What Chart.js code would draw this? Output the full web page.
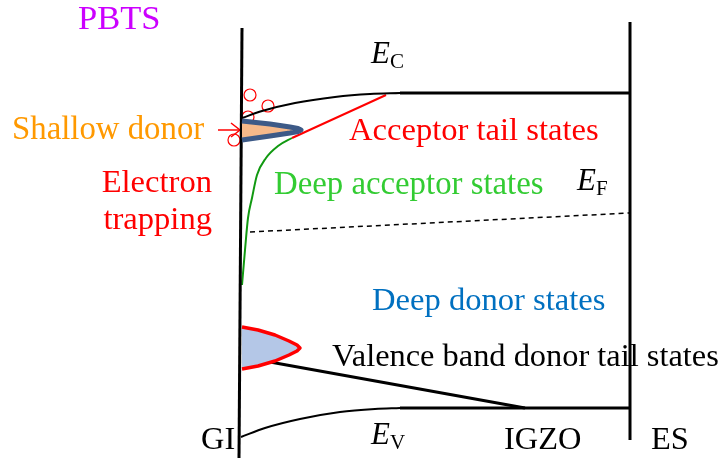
<!DOCTYPE html>
<html>
<head>
<meta charset="utf-8">
<script src="https://cdn.jsdelivr.net/npm/chart.js@4/dist/chart.umd.min.js"></script>
<style>
  body { margin: 0; background: #fff; }
  #wrap { width: 725px; height: 458px; }
</style>
</head>
<body>
<div id="wrap"><canvas id="band"></canvas></div>
<script>
// band diagram traces, x = position, y = energy (screen-like units, top = 0)
const giWall = [[242, 28], [239, 458]];
const esWall = [[630, 22], [630, 440]];
const ecCurve = [[242, 118], [262, 111], [295, 103], [335, 97], [370, 94], [400, 93]];
const ecFlat = [[400, 93], [630, 93]];
const evCurve = [[241, 437], [265, 428], [300, 419], [340, 412], [375, 409], [400, 408]];
const evFlat = [[400, 408], [630, 408]];
const fermiLine = [[250, 232], [630, 213]];
const acceptorTail = [[292, 138], [386, 95]];
const deepAcceptor = [[242, 285], [245, 250], [248, 218], [252, 198], [257, 175], [266, 158], [278, 146], [292, 138]];
const donorTail = [[270, 362], [525, 408]];
const shallowDonor = [[242, 121], [270, 124], [290, 127], [298, 128.5], [301, 130], [298, 131.5], [290, 133], [270, 136], [242, 140]];
const deepDonor = [[242, 327], [258, 330], [275, 335], [289, 341], [297, 345], [300, 348], [297, 351], [289, 355], [275, 361], [258, 366], [242, 369]];
const trappedElectrons = [[250, 95], [268, 106], [248, 117], [234, 140]];
const trapArrow = [[218, 130], [240, 130]];
const arrowHead = [[231, 123], [240, 130], [231, 137]];

const labels = [
  { text: 'PBTS', x: 78, y: 20, color: '#cc00ff', size: 34.5 },
  { text: 'Shallow donor', x: 12, y: 130, color: '#ff9900', size: 32.8 },
  { text: 'Acceptor tail states', x: 349, y: 131, color: '#ff0000', size: 32.6 },
  { text: 'Electron', x: 212, y: 183, color: '#ff0000', size: 32.6, align: 'right' },
  { text: 'trapping', x: 212, y: 220, color: '#ff0000', size: 32.6, align: 'right' },
  { text: 'Deep acceptor states', x: 274, y: 185, color: '#33cc33', size: 32.8 },
  { text: 'Deep donor states', x: 372, y: 301, color: '#0070c0', size: 32.6 },
  { text: 'Valence band donor tail states', x: 332, y: 357, color: '#000000', size: 32.4 },
  { text: 'GI', x: 201, y: 440, color: '#000000', size: 32.4 },
  { text: 'IGZO', x: 504, y: 440, color: '#000000', size: 32.4 },
  { text: 'ES', x: 651, y: 440, color: '#000000', size: 32.4 }
];
const energyLabels = [
  { main: 'E', sub: 'C', x: 371, y: 55 },
  { main: 'E', sub: 'F', x: 577, y: 182 },
  { main: 'E', sub: 'V', x: 371, y: 436 }
];

const toPts = (arr) => arr.map(([x, y]) => ({ x, y }));

function line(data, color, width, extra = {}) {
  return Object.assign({
    data: toPts(data),
    showLine: true,
    borderColor: color,
    borderWidth: width,
    pointRadius: 0,
    fill: false,
    tension: 0
  }, extra);
}

const textPlugin = {
  id: 'bandText',
  afterDatasetsDraw(chart) {
    const { ctx, scales } = chart;
    const fx = scales.x;
    const fy = scales.y;
    ctx.save();
    ctx.textBaseline = 'middle';
    labels.forEach((l) => {
      ctx.font = `${l.size}px "Liberation Serif", serif`;
      ctx.fillStyle = l.color;
      ctx.textAlign = l.align || 'left';
      ctx.fillText(l.text, fx.getPixelForValue(l.x), fy.getPixelForValue(l.y));
    });
    ctx.textAlign = 'left';
    ctx.fillStyle = '#000';
    energyLabels.forEach((l) => {
      const px = fx.getPixelForValue(l.x);
      const py = fy.getPixelForValue(l.y);
      ctx.font = 'italic 31px "Liberation Serif", serif';
      ctx.fillText(l.main, px, py);
      const w = ctx.measureText(l.main).width;
      ctx.font = '21px "Liberation Serif", serif';
      ctx.fillText(l.sub, px + w, py + 7);
    });
    ctx.restore();
  }
};

new Chart(document.getElementById('band'), {
  type: 'scatter',
  data: {
    datasets: [
      line(shallowDonor, '#3d5a87', 5, { fill: 'shape', backgroundColor: '#f6b98a', borderJoinStyle: 'round' }),
      line(deepDonor, '#ff0000', 3.5, { fill: 'shape', backgroundColor: '#b4c7e7', borderJoinStyle: 'round' }),
      line(giWall, '#000', 3),
      line(esWall, '#000', 3),
      line(ecCurve, '#000', 2, { cubicInterpolationMode: 'monotone' }),
      line(ecFlat, '#000', 3),
      line(evCurve, '#000', 2, { cubicInterpolationMode: 'monotone' }),
      line(evFlat, '#000', 3),
      line(fermiLine, '#000', 1.5, { borderDash: [5, 4] }),
      line(acceptorTail, '#ff0000', 2),
      line(deepAcceptor, '#119911', 2, { cubicInterpolationMode: 'monotone' }),
      line(donorTail, '#000', 3),
      line(trapArrow, '#ff0000', 1.5),
      line(arrowHead, '#ff0000', 1.5),
      {
        data: toPts(trappedElectrons),
        pointRadius: 6,
        pointBorderWidth: 1.2,
        pointBorderColor: '#ff0000',
        pointBackgroundColor: 'rgba(255,255,255,0)',
        showLine: false
      }
    ]
  },
  options: {
    responsive: true,
    maintainAspectRatio: false,
    animation: false,
    layout: { padding: 0, autoPadding: false },
    plugins: { legend: { display: false }, tooltip: { enabled: false } },
    scales: {
      x: { type: 'linear', min: 0, max: 725, display: false },
      y: { type: 'linear', min: 0, max: 458, reverse: true, display: false }
    }
  },
  plugins: [textPlugin]
});
</script>
</body>
</html>
